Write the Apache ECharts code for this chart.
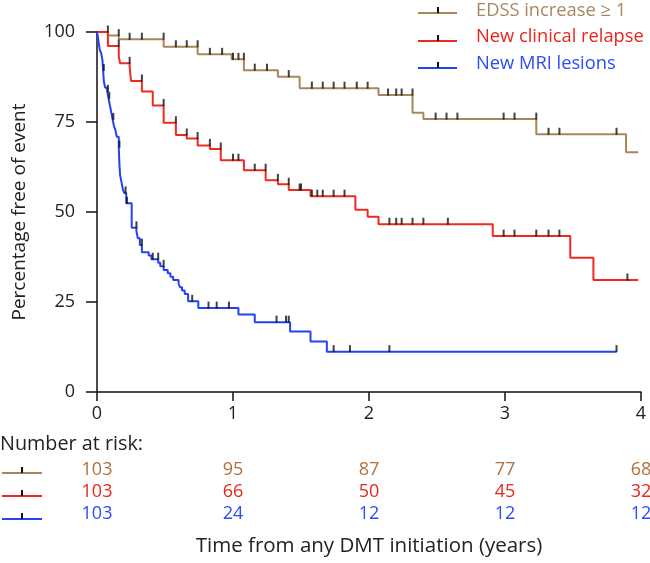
<!DOCTYPE html>
<html><head><meta charset="utf-8">
<script src="https://cdn.jsdelivr.net/npm/echarts@6/dist/echarts.min.js"></script>
<style>html,body{margin:0;padding:0;background:#fff}#c{width:650px;height:563px}</style>
</head><body><div id="c"></div>
<script>
// ---- data ----
const seriesNames = ['EDSS increase \u2265 1', 'New clinical relapse', 'New MRI lesions'];

const edssTimes = [0, 0.08, 0.16, 0.49, 0.74, 0.99, 1.08, 1.33, 1.49, 2.07, 2.32, 2.40, 3.23, 3.89, 3.98];
const edssSurv  = [100, 99.0, 98.0, 95.9, 93.8, 92.4, 89.4, 87.6, 84.4, 82.5, 77.6, 75.8, 71.6, 66.6, 66.6];
const edssCensor = [0.08, 0.16, 0.24, 0.33, 0.49, 0.58, 0.66, 0.74, 0.83, 0.92, 1.0, 1.04, 1.08, 1.16, 1.25, 1.41,
  1.58, 1.66, 1.74, 1.82, 1.91, 1.99, 2.14, 2.20, 2.24, 2.32, 2.49, 2.57, 2.65, 2.99, 3.07, 3.23, 3.32, 3.40, 3.82];

const relapseTimes = [0, 0.08, 0.16, 0.17, 0.24, 0.25, 0.33, 0.41, 0.49, 0.58, 0.66, 0.74, 0.83, 0.91, 1.08, 1.24,
  1.33, 1.41, 1.57, 1.90, 1.99, 2.07, 2.91, 3.48, 3.65, 3.98];
const relapseSurv  = [100, 96.1, 93.2, 91.3, 90.3, 86.4, 83.5, 79.6, 74.8, 71.4, 70.4, 68.5, 67.5, 64.4, 61.6, 58.8,
  57.7, 56.1, 54.4, 50.6, 48.7, 46.6, 43.3, 37.3, 31.1, 31.1];
const relapseCensor = [0.16, 0.24, 0.33, 0.49, 0.58, 0.66, 0.74, 0.83, 0.91, 1.0, 1.04, 1.16, 1.24, 1.33, 1.41, 1.49,
  1.50, 1.58, 1.62, 1.66, 1.74, 1.82, 2.15, 2.20, 2.24, 2.32, 2.40, 2.58, 2.99, 3.07, 3.23, 3.32, 3.40, 3.90];

const mriTimes = [0, 0.005, 0.012, 0.02, 0.03, 0.04, 0.045, 0.05, 0.06, 0.075, 0.085, 0.095, 0.105, 0.115, 0.125,
  0.135, 0.145, 0.16, 0.165, 0.17, 0.18, 0.19, 0.20, 0.215, 0.255, 0.29, 0.30, 0.315, 0.33, 0.38, 0.40, 0.45, 0.465,
  0.49, 0.52, 0.54, 0.56, 0.60, 0.61, 0.625, 0.645, 0.67, 0.745, 1.04, 1.16, 1.42, 1.57, 1.69, 3.82];
const mriSurv  = [100, 99.0, 97.1, 95.1, 94.2, 92.2, 89.3, 86.4, 84.5, 83.5, 81.6, 79.6, 77.7, 75.7, 73.8,
  72.8, 70.9, 68.0, 63.1, 60.2, 58.3, 56.3, 55.3, 52.4, 45.6, 44.7, 42.7, 40.8, 38.8, 37.9, 36.9, 35.9, 34.9,
  33.9, 33.0, 32.0, 31.1, 30.1, 29.1, 28.2, 27.2, 25.2, 23.3, 21.5, 19.4, 16.8, 14.0, 11.2, 11.2];
const mriCensor = [0.05, 0.08, 0.09, 0.12, 0.165, 0.21, 0.22, 0.29, 0.33, 0.41, 0.45, 0.49, 0.70, 0.82, 0.88, 0.97,
  1.32, 1.39, 1.41, 1.74, 1.86, 2.15, 3.82];

const xTicks = [0, 1, 2, 3, 4];
const yTicks = [0, 25, 50, 75, 100];
const riskTimes = [0, 1, 2, 3, 4];
const riskEdss = [103, 95, 87, 77, 68];
const riskRelapse = [103, 66, 50, 45, 32];
const riskMri = [103, 24, 12, 12, 12];

// ---- styles ----
const lineColors = ['#A8865A', '#EE2A1E', '#2342F6'];
const legendTextColors = ['#A8875F', '#E8251C', '#2E4BF5'];
const riskTextColors = ['#B2713C', '#E8251C', '#2E4BF5'];
const FONT = '"Open Sans", "Noto Sans", sans-serif';

function zip(a, b) { return a.map((v, i) => [v, b[i]]); }
function survAt(times, surv, t) {
  let s = surv[0];
  for (let i = 0; i < times.length; i++) { if (times[i] < t - 1e-9) s = surv[i]; }
  return s;
}
const groups = [
  [edssTimes, edssSurv, edssCensor],
  [relapseTimes, relapseSurv, relapseCensor],
  [mriTimes, mriSurv, mriCensor]
];
const riskRows = [riskEdss, riskRelapse, riskMri];

const series = [];
groups.forEach((g, i) => {
  series.push({
    name: seriesNames[i], type: 'line', step: 'end', showSymbol: false, silent: true,
    data: zip(g[0], g[1]), lineStyle: { color: lineColors[i], width: 2 }, itemStyle: { color: lineColors[i] }, z: 2
  });
});
groups.forEach((g, i) => {
  series.push({
    name: seriesNames[i] + ' censored', type: 'scatter', symbol: 'rect', symbolSize: [2, 7], symbolOffset: [0, -3],
    data: g[2].map(t => [t, survAt(g[0], g[1], t)]), itemStyle: { color: '#111' }, z: 3, silent: true
  });
});

const chart = echarts.init(document.getElementById('c'), null, { renderer: 'canvas' });
chart.setOption({
  animation: false,
  backgroundColor: '#fff',
  grid: { left: 97, right: 9, top: 32, bottom: 171, containLabel: false, outerBoundsMode: 'none' },
  xAxis: {
    type: 'value', min: xTicks[0], max: xTicks[xTicks.length - 1], interval: 1,
    name: 'Time from any DMT initiation (years)', nameLocation: 'middle', nameGap: 144,
    nameTextStyle: { fontFamily: FONT, fontSize: 20.5, color: '#222' },
    axisLine: { lineStyle: { color: '#111', width: 1.5 } },
    axisTick: { length: 9, lineStyle: { color: '#111', width: 1.5 } },
    axisLabel: { fontFamily: FONT, fontSize: 18, color: '#222', margin: 13 },
    splitLine: { show: false }
  },
  yAxis: {
    type: 'value', min: yTicks[0], max: yTicks[yTicks.length - 1], interval: 25,
    name: 'Percentage free of event', nameLocation: 'middle', nameGap: 68,
    nameTextStyle: { fontFamily: FONT, fontSize: 19, color: '#222' },
    axisLine: { show: true, lineStyle: { color: '#111', width: 1.5 } },
    axisTick: { show: true, length: 11, lineStyle: { color: '#111', width: 1.5 } },
    axisLabel: { fontFamily: FONT, fontSize: 18, color: '#222', margin: 22 },
    splitLine: { show: false }
  },
  series: series
});

// ---- legend & risk table as graphics ----
const graphics = [];
const legLineY = [13, 41, 68];
const legTextY = [11, 37, 64];
seriesNames.forEach((n, i) => {
  graphics.push({ type: 'line', shape: { x1: 418, y1: legLineY[i], x2: 457, y2: legLineY[i] }, style: { stroke: lineColors[i], lineWidth: 2 } });
  graphics.push({ type: 'rect', shape: { x: 437, y: legLineY[i] - 6, width: 2, height: 6 }, style: { fill: '#111' } });
  graphics.push({ type: 'text', x: 476, y: legTextY[i], style: { text: n, fill: legendTextColors[i], font: '18.3px ' + FONT, verticalAlign: 'middle', align: 'left' } });
});
graphics.push({ type: 'text', x: 0, y: 444, style: { text: 'Number at risk:', fill: '#222', font: '19.8px ' + FONT, verticalAlign: 'middle', align: 'left' } });
const rowTextY = [470, 492, 514];
const rowLineY = [473, 496, 519];
riskRows.forEach((row, i) => {
  graphics.push({ type: 'line', shape: { x1: 2, y1: rowLineY[i], x2: 42, y2: rowLineY[i] }, style: { stroke: lineColors[i], lineWidth: 2 } });
  graphics.push({ type: 'rect', shape: { x: 21, y: rowLineY[i] - 6, width: 2, height: 6 }, style: { fill: '#111' } });
  row.forEach((v, j) => {
    const px = chart.convertToPixel({ gridIndex: 0 }, [riskTimes[j], 0])[0];
    graphics.push({ type: 'text', x: px, y: rowTextY[i], style: { text: String(v), fill: riskTextColors[i], font: '18px ' + FONT, verticalAlign: 'middle', align: 'center' } });
  });
});
chart.setOption({ graphic: graphics });
</script>
</body></html>
